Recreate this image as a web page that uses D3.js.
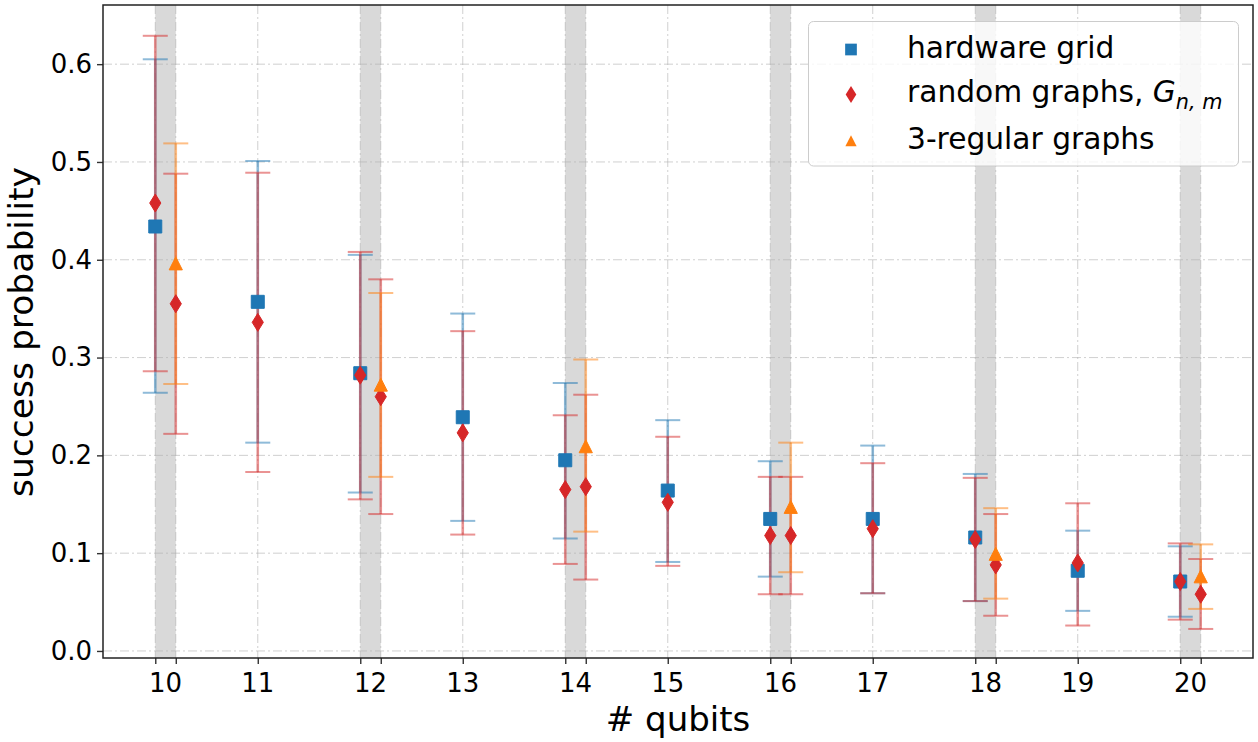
<!DOCTYPE html>
<html>
<head>
<meta charset="utf-8">
<script src="https://cdn.jsdelivr.net/npm/d3@7"></script>
<style>
  body { margin: 0; background: #fff; }
  text { font-family: "DejaVu Sans", sans-serif; fill: #000; }
</style>
</head>
<body>
<svg id="chart" width="1258" height="742"></svg>
<script>
// number of qubits
const qubits = [10, 11, 12, 13, 14, 15, 16, 17, 18, 19, 20];
const evenQubits = [10, 12, 14, 16, 18, 20];

// hardware grid (all n)
const hwMean = [0.434, 0.357, 0.284, 0.239, 0.195, 0.164, 0.135, 0.135, 0.116, 0.082, 0.071];
const hwLow  = [0.264, 0.213, 0.162, 0.133, 0.115, 0.091, 0.076, 0.059, 0.051, 0.041, 0.035];
const hwHigh = [0.605, 0.501, 0.405, 0.345, 0.274, 0.236, 0.194, 0.210, 0.181, 0.123, 0.107];

// random graphs G_{n,m}, matched to the hardware grid (all n)
const rndMean = [0.458, 0.336, 0.282, 0.223, 0.165, 0.152, 0.118, 0.125, 0.114, 0.090, 0.071];
const rndLow  = [0.286, 0.183, 0.155, 0.119, 0.089, 0.087, 0.058, 0.059, 0.051, 0.026, 0.032];
const rndHigh = [0.629, 0.489, 0.408, 0.327, 0.241, 0.219, 0.178, 0.192, 0.177, 0.151, 0.110];

// random graphs G_{n,m}, matched to the 3-regular graphs (even n)
const rnd3Mean = [0.355, 0.260, 0.168, 0.118, 0.088, 0.058];
const rnd3Low  = [0.222, 0.140, 0.073, 0.058, 0.036, 0.0225];
const rnd3High = [0.488, 0.380, 0.262, 0.178, 0.140, 0.094];

// 3-regular graphs (even n)
const regMean = [0.396, 0.272, 0.209, 0.147, 0.099, 0.076];
const regLow  = [0.273, 0.178, 0.122, 0.0805, 0.0535, 0.043];
const regHigh = [0.519, 0.366, 0.298, 0.213, 0.146, 0.109];

const yTicks = [0.0, 0.1, 0.2, 0.3, 0.4, 0.5, 0.6];
const shift = 0.2; // offset of the second group at even n

const blue = "#1f77b4", red = "#d62728", orange = "#ff7f0e";

const margin = { left: 103, right: 5, top: 5, bottom: 84 };
const W = 1258, H = 742;
const tickFont = "26px";

const svg = d3.select("#chart");

const x = d3.scaleLinear().domain([9.49, 20.71]).range([margin.left, W - margin.right]);
const y = d3.scaleLinear().domain([-0.0072, 0.6605]).range([H - margin.bottom, margin.top]);

// shaded bands at even n
svg.append("g").selectAll("rect")
  .data(evenQubits)
  .join("rect")
  .attr("x", d => x(d))
  .attr("width", d => x(d + shift) - x(d))
  .attr("y", margin.top)
  .attr("height", y.range()[0] - margin.top)
  .attr("fill", "#d9d9d9");

// tick positions on x
const xTickPos = [];
qubits.forEach(n => {
  xTickPos.push(n);
  if (n % 2 === 0) xTickPos.push(n + shift);
});

// grid
const grid = svg.append("g")
  .attr("stroke", "#b0b0b0")
  .attr("stroke-opacity", 0.6)
  .attr("stroke-width", 1)
  .attr("stroke-dasharray", "9,3,2,3");
grid.selectAll("line.gx").data(xTickPos).join("line")
  .attr("class", "gx")
  .attr("x1", d => x(d)).attr("x2", d => x(d))
  .attr("y1", margin.top).attr("y2", y.range()[0]);
grid.selectAll("line.gy").data(yTicks).join("line")
  .attr("class", "gy")
  .attr("x1", margin.left).attr("x2", W - margin.right)
  .attr("y1", d => y(d)).attr("y2", d => y(d));

// error bars
const capW = 12.5;
function errorBars(xs, low, high, color) {
  const g = svg.append("g")
    .attr("stroke", color)
    .attr("stroke-opacity", 0.5);
  xs.forEach((xv, i) => {
    const px = x(xv);
    g.append("line")
      .attr("x1", px).attr("x2", px)
      .attr("y1", y(low[i])).attr("y2", y(high[i]))
      .attr("stroke-width", 2.6);
    [low[i], high[i]].forEach(v => {
      g.append("line")
        .attr("x1", px - capW).attr("x2", px + capW)
        .attr("y1", y(v)).attr("y2", y(v))
        .attr("stroke-width", 2);
    });
  });
}

const secondX = evenQubits.map(n => n + shift);

errorBars(qubits, hwLow, hwHigh, blue);
errorBars(qubits, rndLow, rndHigh, red);
errorBars(secondX, rnd3Low, rnd3High, red);
errorBars(secondX, regLow, regHigh, orange);

// marker shapes
const shapes = {
  square: "M-6.5,-6.5H6.5V6.5H-6.5Z",
  diamond: "M0,-9L5.6,0L0,9L-5.6,0Z",
  triangle: "M0,-6.8L6.6,6.2L-6.6,6.2Z"
};

function markers(xs, vals, shape, color) {
  svg.append("g").selectAll("path")
    .data(xs.map((xv, i) => [xv, vals[i]]))
    .join("path")
    .attr("d", shapes[shape])
    .attr("transform", d => `translate(${x(d[0])},${y(d[1])})`)
    .attr("fill", color)
    .attr("stroke", color)
    .attr("stroke-width", 1);
}

markers(qubits, hwMean, "square", blue);
markers(qubits, rndMean, "diamond", red);
markers(secondX, rnd3Mean, "diamond", red);
markers(secondX, regMean, "triangle", orange);

// axes
const xAxis = svg.append("g")
  .attr("transform", `translate(0,${y.range()[0]})`)
  .call(d3.axisBottom(x).tickValues(xTickPos).tickFormat("").tickSize(6).tickSizeOuter(0));
xAxis.select(".domain").remove();
xAxis.selectAll(".tick line").attr("stroke", "#333").attr("stroke-width", 1.4);

svg.append("g").selectAll("text")
  .data(qubits)
  .join("text")
  .attr("x", n => x(n % 2 === 0 ? n + shift / 2 : n))
  .attr("y", 692)
  .attr("text-anchor", "middle")
  .style("font-size", tickFont)
  .text(n => n);

const yAxis = svg.append("g")
  .attr("transform", `translate(${margin.left},0)`)
  .call(d3.axisLeft(y).tickValues(yTicks).tickFormat(d3.format(".1f")).tickSize(6).tickPadding(5));
yAxis.select(".domain").remove();
yAxis.selectAll(".tick line").attr("stroke", "#333").attr("stroke-width", 1.4);
yAxis.selectAll(".tick text")
  .style("font-size", tickFont)
  .style("font-family", "DejaVu Sans")
  .attr("fill", "#000");

// frame
svg.append("rect")
  .attr("x", margin.left).attr("y", margin.top)
  .attr("width", W - margin.right - margin.left)
  .attr("height", y.range()[0] - margin.top)
  .attr("fill", "none")
  .attr("stroke", "#222")
  .attr("stroke-width", 1.5);

// axis labels
svg.append("text")
  .attr("x", (margin.left + W - margin.right) / 2)
  .attr("y", 731)
  .attr("text-anchor", "middle")
  .style("font-size", "34px")
  .text("# qubits");

svg.append("text")
  .attr("transform", "translate(33,332) rotate(-90)")
  .attr("text-anchor", "middle")
  .style("font-size", "34.5px")
  .text("success probability");

// legend
const legend = svg.append("g");
legend.append("rect")
  .attr("x", 808.5).attr("y", 21.5)
  .attr("width", 430).attr("height", 144.5)
  .attr("rx", 5)
  .attr("fill", "#fff").attr("fill-opacity", 0.8)
  .attr("stroke", "#ccc").attr("stroke-width", 1);

const legendItems = [
  { shape: "square", color: blue, cy: 49.5 },
  { shape: "diamond", color: red, cy: 94.5 },
  { shape: "triangle", color: orange, cy: 141 }
];
const legendScale = [0.9, 0.95, 0.85];
legendItems.forEach((it, i) => {
  legend.append("path")
    .attr("d", shapes[it.shape])
    .attr("transform", `translate(851,${it.cy}) scale(${legendScale[i]})`)
    .attr("fill", it.color);
});

const fs = 29.7;
legend.append("text").attr("x", 907).attr("y", 57.5)
  .style("font-size", fs + "px").text("hardware grid");
const t2 = legend.append("text").attr("x", 907).attr("y", 102)
  .style("font-size", fs + "px");
t2.append("tspan").text("random graphs, ");
t2.append("tspan").style("font-style", "italic").text("G");
t2.append("tspan").attr("dy", 7).style("font-style", "italic").style("font-size", (fs * 0.7) + "px").text("n, m");
legend.append("text").attr("x", 907).attr("y", 148.5)
  .style("font-size", fs + "px").text("3-regular graphs");
</script>
</body>
</html>
